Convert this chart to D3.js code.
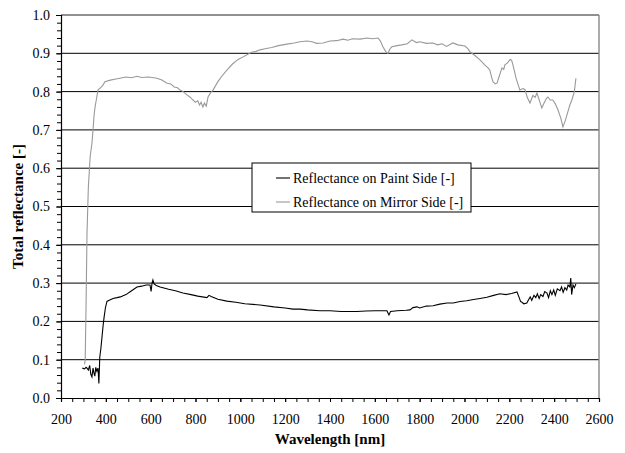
<!DOCTYPE html>
<html>
<head>
<meta charset="utf-8">
<script src="https://cdn.jsdelivr.net/npm/d3@7"></script>
<style>
body { margin: 0; background: #fff; }
</style>
</head>
<body>
<script>
// spectra
var mirrorNm = [305,308,312,316,322,330,338,343,347,352,358,365,372,385,396,420,445,463,490,515,539,560,590,628,650,673,690,705,720,731,745,760,775,789,800,810,818,825,833,840,848,856,866,878,900,920,940,965,990,1010,1030,1050,1070,1088,1110,1140,1170,1208,1240,1266,1297,1320,1340,1369,1400,1430,1458,1480,1500,1534,1565,1590,1614,1625,1636,1648,1658,1668,1676,1700,1720,1745,1766,1785,1800,1830,1859,1880,1900,1920,1948,1970,2002,2015,2024,2045,2069,2090,2105,2113,2122,2127,2137,2145,2155,2167,2175,2180,2192,2203,2210,2216,2230,2247,2261,2270,2280,2292,2305,2315,2323,2335,2345,2355,2365,2372,2382,2394,2405,2417,2430,2439,2450,2461,2470,2479,2490,2497];
var mirrorR = [0.088,0.10,0.25,0.43,0.55,0.63,0.665,0.70,0.735,0.76,0.78,0.804,0.808,0.815,0.826,0.830,0.833,0.835,0.838,0.836,0.840,0.837,0.838,0.835,0.830,0.822,0.820,0.812,0.810,0.804,0.800,0.792,0.786,0.778,0.772,0.776,0.765,0.772,0.760,0.770,0.762,0.786,0.796,0.804,0.826,0.842,0.856,0.872,0.884,0.890,0.896,0.903,0.905,0.909,0.912,0.915,0.920,0.924,0.927,0.930,0.932,0.930,0.926,0.927,0.932,0.933,0.937,0.934,0.938,0.937,0.940,0.938,0.940,0.932,0.917,0.905,0.900,0.912,0.917,0.920,0.922,0.925,0.935,0.928,0.930,0.926,0.927,0.922,0.925,0.918,0.927,0.922,0.919,0.912,0.904,0.895,0.883,0.870,0.862,0.856,0.835,0.826,0.820,0.822,0.840,0.862,0.858,0.870,0.875,0.884,0.882,0.870,0.835,0.804,0.808,0.805,0.785,0.770,0.790,0.785,0.796,0.775,0.757,0.770,0.782,0.786,0.778,0.778,0.768,0.752,0.730,0.708,0.725,0.747,0.765,0.778,0.800,0.835];

var paintNm = [295,305,312,316,322,328,333,338,343,347,351,355,360,365,369,373,378,383,388,392,398,405,415,425,432,450,465,477,490,510,539,560,580,597,602,606,610,615,625,642,680,710,744,780,810,851,860,870,900,940,980,1020,1088,1150,1200,1235,1266,1300,1355,1400,1450,1489,1520,1560,1600,1654,1663,1670,1700,1740,1757,1770,1788,1800,1830,1860,1890,1922,1950,1980,2010,2040,2069,2100,2130,2158,2185,2210,2234,2244,2250,2256,2265,2278,2287,2293,2300,2310,2318,2325,2333,2340,2350,2358,2368,2375,2383,2390,2398,2405,2414,2426,2433,2440,2448,2456,2462,2470,2474,2478,2484,2490,2497];
var paintR = [0.078,0.076,0.080,0.078,0.073,0.085,0.062,0.055,0.078,0.065,0.057,0.080,0.070,0.078,0.038,0.107,0.13,0.16,0.19,0.21,0.235,0.252,0.255,0.258,0.260,0.262,0.264,0.267,0.270,0.278,0.290,0.292,0.295,0.295,0.278,0.300,0.308,0.298,0.294,0.290,0.284,0.280,0.274,0.270,0.266,0.262,0.268,0.265,0.258,0.253,0.250,0.246,0.243,0.238,0.235,0.232,0.232,0.230,0.228,0.228,0.226,0.226,0.226,0.227,0.228,0.228,0.217,0.226,0.228,0.229,0.230,0.236,0.238,0.235,0.240,0.241,0.245,0.248,0.248,0.252,0.254,0.257,0.260,0.263,0.268,0.272,0.270,0.273,0.277,0.262,0.252,0.250,0.246,0.248,0.258,0.264,0.255,0.268,0.262,0.272,0.260,0.270,0.265,0.278,0.274,0.262,0.280,0.270,0.282,0.268,0.285,0.280,0.290,0.276,0.288,0.282,0.295,0.290,0.313,0.270,0.295,0.288,0.298];

var xTicks = [200,400,600,800,1000,1200,1400,1600,1800,2000,2200,2400,2600];
var yTicks = [0,0.1,0.2,0.3,0.4,0.5,0.6,0.7,0.8,0.9,1.0];
var seriesNames = ["Reflectance on Paint Side [-]", "Reflectance on Mirror Side [-]"];

var W = 625, H = 453;
var plotL = 61, plotR = 599, plotT = 15, plotB = 398;
var FONT = "Liberation Serif, serif";

var svg = d3.select("body").append("svg")
    .attr("width", W)
    .attr("height", H)
    .attr("font-family", FONT);

var x = d3.scaleLinear().domain([200, 2600]).range([plotL, plotR]);
var y = d3.scaleLinear().domain([0, 1]).range([plotB, plotT]);

// gridlines
svg.append("g").selectAll("line")
    .data(yTicks.slice(1, -1))
    .enter().append("line")
    .attr("x1", plotL).attr("x2", plotR)
    .attr("y1", function(d) { return y(d); })
    .attr("y2", function(d) { return y(d); })
    .attr("stroke", "#000")
    .attr("stroke-width", 1);

// top and right frame
svg.append("line").attr("x1", plotL).attr("x2", plotR).attr("y1", plotT).attr("y2", plotT)
    .attr("stroke", "#222").attr("stroke-width", 1.2);
svg.append("line").attr("x1", plotR).attr("x2", plotR).attr("y1", plotT).attr("y2", plotB)
    .attr("stroke", "#888").attr("stroke-width", 1.4);

// y axis, minor ticks every 0.02
svg.append("g").attr("transform", "translate(" + plotL + ",0)")
    .call(d3.axisLeft(y).ticks(50).tickSize(4).tickFormat(""))
    .call(function(g) { g.select(".domain").attr("stroke-width", 1.2); });
svg.append("g").attr("transform", "translate(" + plotL + ",0)")
    .call(d3.axisLeft(y).tickValues(yTicks).tickSize(5).tickPadding(6).tickFormat(d3.format(".1f")))
    .call(function(g) {
        g.attr("font-family", FONT);
        g.select(".domain").remove();
        g.selectAll("text").attr("font-size", 14).attr("fill", "#000")
            .attr("font-family", FONT);
    });

// x axis, ticks every 50
svg.append("g").attr("transform", "translate(0," + plotB + ")")
    .call(d3.axisBottom(x).tickValues(d3.range(200, 2601, 50)).tickSize(4).tickFormat(""))
    .call(function(g) { g.select(".domain").attr("stroke-width", 1.2); });
svg.append("g").attr("transform", "translate(0," + plotB + ")")
    .call(d3.axisBottom(x).tickValues(xTicks).tickSize(4).tickPadding(12).tickFormat(d3.format("d")))
    .call(function(g) {
        g.attr("font-family", FONT);
        g.select(".domain").remove();
        g.selectAll("text").attr("font-size", 14).attr("fill", "#000")
            .attr("font-family", FONT);
    });

// curves
var line = d3.line()
    .x(function(d) { return x(d[0]); })
    .y(function(d) { return y(d[1]); });

svg.append("path")
    .datum(d3.zip(mirrorNm, mirrorR))
    .attr("d", line)
    .attr("fill", "none")
    .attr("stroke", "#999")
    .attr("stroke-width", 1.1);

svg.append("path")
    .datum(d3.zip(paintNm, paintR))
    .attr("d", line)
    .attr("fill", "none")
    .attr("stroke", "#000")
    .attr("stroke-width", 1.1);

// legend
var lg = svg.append("g").attr("transform", "translate(252,163)");
lg.append("rect").attr("width", 219).attr("height", 49)
    .attr("fill", "#fff").attr("stroke", "#000").attr("stroke-width", 1);
var colors = ["#000", "#999"];
seriesNames.forEach(function(name, i) {
    var yy = 15 + i * 24;
    lg.append("line").attr("x1", 24).attr("x2", 38).attr("y1", yy).attr("y2", yy)
        .attr("stroke", colors[i]).attr("stroke-width", 1.1);
    lg.append("text").attr("x", 41).attr("y", yy + 4.5)
        .attr("font-family", FONT)
        .attr("font-size", 14).text(name);
});

// axis titles
svg.append("text")
    .attr("x", (plotL + plotR) / 2).attr("y", 444)
    .attr("text-anchor", "middle")
    .attr("font-family", FONT)
    .attr("font-size", 15).attr("font-weight", "bold")
    .text("Wavelength [nm]");

svg.append("text")
    .attr("transform", "translate(23," + ((plotT + plotB) / 2) + ") rotate(-90)")
    .attr("text-anchor", "middle")
    .attr("font-family", FONT)
    .attr("font-size", 15).attr("font-weight", "bold")
    .text("Total reflectance [-]");
</script>
</body>
</html>
